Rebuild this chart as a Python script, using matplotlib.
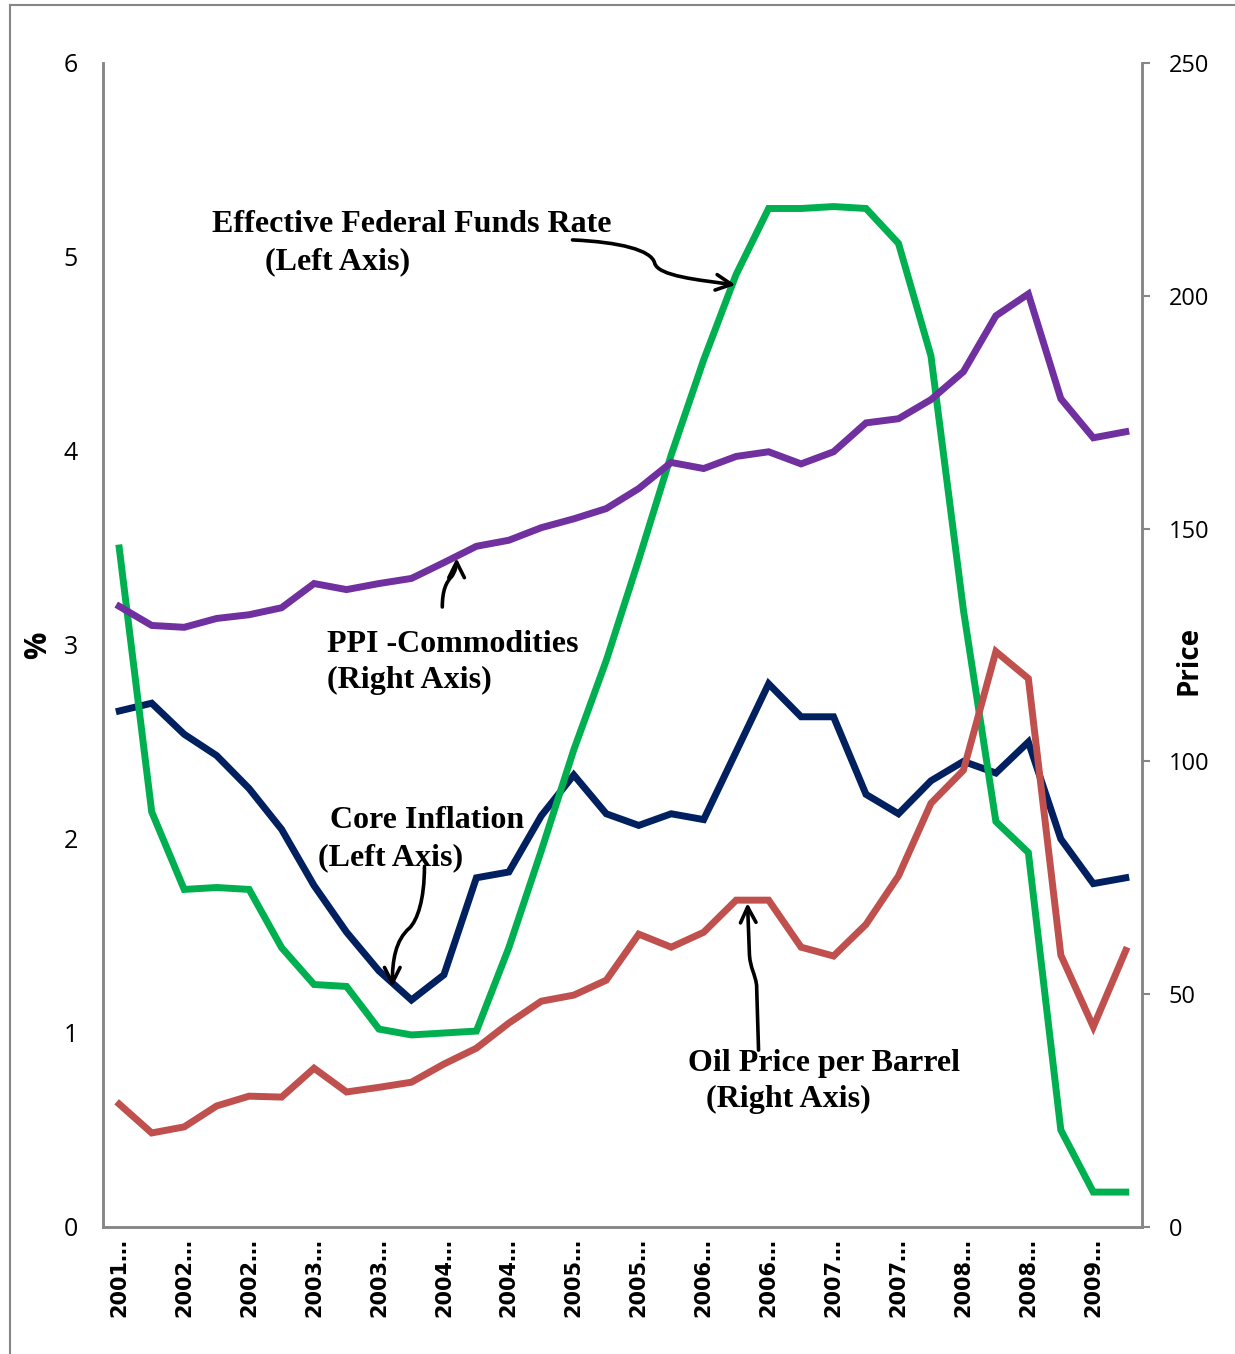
import numpy as np
import matplotlib
matplotlib.use("Agg")
import matplotlib.pyplot as plt
from matplotlib.patches import FancyArrowPatch
from matplotlib.path import Path
from matplotlib.lines import Line2D

# Quarterly observations, 2001 Q3 - 2009 Q2
quarters = ["2001 Q3", "2001 Q4", "2002 Q1", "2002 Q2", "2002 Q3", "2002 Q4",
            "2003 Q1", "2003 Q2", "2003 Q3", "2003 Q4", "2004 Q1", "2004 Q2",
            "2004 Q3", "2004 Q4", "2005 Q1", "2005 Q2", "2005 Q3", "2005 Q4",
            "2006 Q1", "2006 Q2", "2006 Q3", "2006 Q4", "2007 Q1", "2007 Q2",
            "2007 Q3", "2007 Q4", "2008 Q1", "2008 Q2", "2008 Q3", "2008 Q4",
            "2009 Q1", "2009 Q2"]

# left axis (%)
fed_funds = [3.50, 2.14, 1.74, 1.75, 1.74, 1.44, 1.25, 1.24, 1.02, 0.99, 1.00, 1.01,
             1.44, 1.94, 2.46, 2.92, 3.44, 3.98, 4.47, 4.91, 5.25, 5.25, 5.26, 5.25,
             5.07, 4.49, 3.18, 2.09, 1.93, 0.50, 0.18, 0.18]
core_inflation = [2.66, 2.70, 2.54, 2.43, 2.26, 2.05, 1.76, 1.52, 1.32, 1.17, 1.30, 1.80,
                  1.83, 2.12, 2.33, 2.13, 2.07, 2.13, 2.10, 2.45, 2.80, 2.63, 2.63, 2.23,
                  2.13, 2.30, 2.40, 2.34, 2.50, 2.00, 1.77, 1.80]

# right axis (price)
ppi_commodities = [133.3, 129.2, 128.8, 130.7, 131.5, 133.0, 138.2, 136.9, 138.2, 139.3,
                   142.7, 146.2, 147.5, 150.2, 152.1, 154.3, 158.6, 164.2, 162.9, 165.5,
                   166.5, 163.9, 166.5, 172.7, 173.6, 177.7, 183.7, 195.7, 200.4, 177.9,
                   169.5, 170.8]
oil_price = [26.4, 20.2, 21.5, 26.0, 28.1, 27.9, 34.1, 29.0, 30.0, 31.1, 35.0, 38.4,
             43.8, 48.5, 49.8, 53.0, 62.9, 60.1, 63.3, 70.2, 70.2, 60.1, 58.2, 65.0,
             75.4, 91.0, 98.1, 123.6, 117.8, 58.4, 43.0, 59.4]

left_ticks = [0, 1, 2, 3, 4, 5, 6]
right_ticks = [0, 50, 100, 150, 200, 250]

GREEN = "#00B050"
NAVY = "#002060"
PURPLE = "#7030A0"
RED = "#C0504D"
GREY = "#868686"

tick_font = ["Open Sans", "DejaVu Sans"]
note_font = ["Liberation Serif", "DejaVu Serif"]

W, H = 1235, 1354
fig = plt.figure(figsize=(W / 100, H / 100), dpi=100)
ax = fig.add_axes([103 / W, 127 / H, 1039 / W, 1164 / H])
ax2 = ax.twinx()

x = np.arange(len(quarters))
ax.plot(x, core_inflation, color=NAVY, lw=5, solid_joinstyle="miter")
ax.plot(x, fed_funds, color=GREEN, lw=5, solid_joinstyle="miter")
ax2.plot(x, ppi_commodities, color=PURPLE, lw=5, solid_joinstyle="miter")
ax2.plot(x, oil_price, color=RED, lw=5, solid_joinstyle="miter")

# axis styling
for a in (ax, ax2):
    a.spines["top"].set_visible(False)
    for side in ("left", "right", "bottom"):
        a.spines[side].set_color(GREY)
        a.spines[side].set_linewidth(1.8)

ax.set_yticks(left_ticks)
ax.set_yticklabels([str(t) for t in left_ticks], family=tick_font, fontsize=18)
ax.tick_params(axis="y", length=0, pad=18)
ax2.set_yticks(right_ticks)
ax2.set_yticklabels([str(t) for t in right_ticks], family=tick_font, fontsize=17)
ax2.tick_params(axis="y", length=6, width=1.5, color=GREY, pad=13)

labels = [q.split()[0] + "\u2026" for q in quarters[::2]]
ax.set_xticks(x[::2])
ax.set_xticklabels(labels, rotation=90, fontsize=15, fontweight="bold",
                   family="DejaVu Sans", va="top")
ax.tick_params(axis="x", length=0, pad=8)

# axis titles
fig.text(38 / W, 1 - 645 / H, "%", rotation=90, ha="center", va="center",
         family=tick_font, fontsize=22, fontweight="bold")
fig.text(1189 / W, 1 - 660 / H, "Price", rotation=90, ha="center", va="center",
         family=tick_font, fontsize=20, fontweight="bold")

ax.set_xlim(-0.5, len(quarters) - 0.5)
ax.set_ylim(0, 6)
ax2.set_ylim(0, 250)

# annotations in left-axis data coordinates
notes = [
    ("Effective Federal Funds Rate", 2.87, 5.165),
    ("(Left Axis)", 4.50, 4.975),
    ("PPI -Commodities", 6.41, 3.005),
    ("(Right Axis)", 6.41, 2.815),
    ("Core Inflation", 6.50, 2.093),
    ("(Left Axis)", 6.13, 1.902),
    ("Oil Price per Barrel", 17.53, 0.845),
    ("(Right Axis)", 18.06, 0.655),
]
for txt, tx, ty in notes:
    ax2.text(tx, ty, txt, transform=ax.transData, ha="left", va="center",
             family=note_font, fontweight="bold", fontsize=23, zorder=6)

C = Path.CURVE4
arrows = [
    ([(13.96, 5.088), (15.41, 5.077), (16.39, 5.036), (16.49, 4.969),
      (16.58, 4.902), (17.87, 4.881), (18.98, 4.856)],
     [Path.MOVETO, C, C, C, C, C, C]),
    ([(9.95, 3.196), (9.95, 3.284), (10.08, 3.325), (10.23, 3.351),
      (10.35, 3.376), (10.39, 3.412), (10.39, 3.448)],
     [Path.MOVETO, C, C, C, C, C, C]),
    ([(9.40, 1.856), (9.40, 1.686), (9.18, 1.582), (8.94, 1.541),
      (8.51, 1.479), (8.41, 1.376), (8.41, 1.237)],
     [Path.MOVETO, C, C, C, C, C, C]),
    ([(19.69, 0.912), (19.63, 1.247), (19.57, 1.314), (19.45, 1.325),
      (19.41, 1.402), (19.35, 1.670)],
     [Path.MOVETO, Path.LINETO, C, C, C, Path.LINETO]),
]
for verts, codes in arrows:
    arr = FancyArrowPatch(path=Path(verts, codes), arrowstyle="->",
                          mutation_scale=28, lw=2.6, color="black",
                          transform=ax.transData, zorder=7)
    ax2.add_patch(arr)

ax.set_xlim(-0.5, len(quarters) - 0.5)
ax2.set_ylim(0, 250)

# outer chart border
fig.add_artist(Line2D([10 / W, 10 / W], [0, 1 - 5 / H],
                      transform=fig.transFigure, color=GREY, lw=1.5))
fig.add_artist(Line2D([10 / W, 1], [1 - 5 / H, 1 - 5 / H],
                      transform=fig.transFigure, color=GREY, lw=1.5))

fig.savefig("out.png", dpi=100)
